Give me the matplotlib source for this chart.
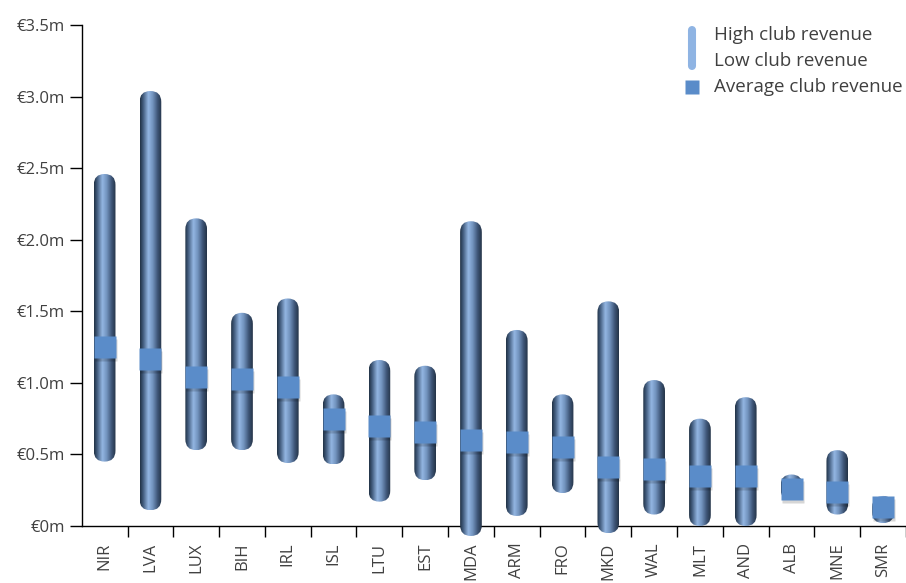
import matplotlib
matplotlib.use("Agg")
import matplotlib.pyplot as plt
import numpy as np
from matplotlib.patches import FancyBboxPatch
from matplotlib.colors import LinearSegmentedColormap
from matplotlib.transforms import IdentityTransform, offset_copy
from matplotlib.ticker import FixedLocator

# club revenue per country, in EUR millions
countries = ["NIR", "LVA", "LUX", "BIH", "IRL", "ISL", "LTU", "EST", "MDA",
             "ARM", "FRO", "MKD", "WAL", "MLT", "AND", "ALB", "MNE", "SMR"]
high = [2.46, 3.04, 2.15, 1.49, 1.59, 0.92, 1.16, 1.12, 2.13,
        1.37, 0.92, 1.57, 1.02, 0.75, 0.90, 0.36, 0.53, 0.21]
low = [0.45, 0.11, 0.53, 0.53, 0.44, 0.43, 0.17, 0.32, -0.07,
       0.07, 0.23, -0.05, 0.08, 0.0, 0.0, 0.18, 0.08, 0.02]
average = [1.25, 1.17, 1.04, 1.03, 0.97, 0.75, 0.70, 0.66, 0.60,
           0.59, 0.55, 0.41, 0.40, 0.35, 0.35, 0.26, 0.24, 0.13]
yticks = [0, 0.5, 1.0, 1.5, 2.0, 2.5, 3.0, 3.5]

plt.rcParams['font.family'] = ['Open Sans', 'DejaVu Sans']
txt = '#404040'

fig = plt.figure(figsize=(9.06, 5.83), dpi=100)
ax = fig.add_axes([0.0902, 0.0978, 0.9098, 0.859])
ax.set_xlim(-0.5, len(countries) - 0.5)
ax.set_ylim(0, 3.5)

# cylinder look: dark edges, light stripe left of centre
cyl = LinearSegmentedColormap.from_list('cyl', [
    (0.0, '#223246'), (0.12, '#3d5676'), (0.38, '#93b6e2'),
    (0.58, '#7394bf'), (0.82, '#3c5374'), (1.0, '#243447')])
grad = np.linspace(0, 1, 64).reshape(1, -1)
bar_w = 0.474

for i, (hi, lo) in enumerate(zip(high, low)):
    x0, y0 = ax.transData.transform((i - bar_w / 2, lo))
    x1, y1 = ax.transData.transform((i + bar_w / 2, hi))
    r = min((x1 - x0) / 2, (y1 - y0) / 2)
    clip = FancyBboxPatch((x0, y0), x1 - x0, y1 - y0,
                          boxstyle=f"round,pad=0,rounding_size={r}",
                          transform=IdentityTransform())
    im = ax.imshow(grad, cmap=cyl, extent=(i - bar_w / 2, i + bar_w / 2, lo, hi),
                   aspect='auto', interpolation='bilinear', zorder=3)
    im.set_clip_path(clip)
    im.set_clip_box(fig.bbox)  # let bars dip below the x axis

x = np.arange(len(countries))
shadow = offset_copy(ax.transData, fig=fig, x=1, y=-3, units='dots')
ax.plot(x, average, 's', ms=16.5, color='black', alpha=0.16, mec='none',
        transform=shadow, zorder=4, clip_on=False)
ax.plot(x, average, 's', ms=16, color='#5a8cc9', mec='none', zorder=5, clip_on=False)

# axes styling
for s in ['top', 'right']:
    ax.spines[s].set_visible(False)
ax.spines['left'].set_linewidth(1)
ax.spines['bottom'].set_linewidth(1)
ax.set_yticks(yticks)
ax.set_yticklabels(['€0m' if v == 0 else f'€{v:.1f}m' for v in yticks])
ax.tick_params(axis='y', length=9, width=1, pad=3, labelsize=12, labelcolor=txt)
ax.set_xticks(x)
ax.set_xticklabels(countries, rotation=90, va='top')
ax.tick_params(axis='x', which='major', length=0, pad=12, labelsize=12, labelcolor=txt)
ax.xaxis.set_minor_locator(FixedLocator(np.arange(len(countries)) + 0.5))
ax.tick_params(axis='x', which='minor', length=8, width=1)

# legend drawn by hand
ft = fig.transFigure
fig.add_artist(plt.Line2D([691.5 / 906, 691.5 / 906], [1 - 30 / 583, 1 - 66 / 583],
                          transform=ft, lw=5.8, color='#8fb4e3', solid_capstyle='round'))
fig.add_artist(plt.Line2D([691.5 / 906], [1 - 87 / 583], transform=ft, marker='s',
                          ms=9.5, color='#5a8cc9', mec='none', ls='none'))
for label, yy in [("High club revenue", 35), ("Low club revenue", 61),
                  ("Average club revenue", 87)]:
    fig.text(714 / 906, 1 - yy / 583, label, fontsize=13.5, color=txt, va='center')

fig.savefig('out.png', dpi=100)
